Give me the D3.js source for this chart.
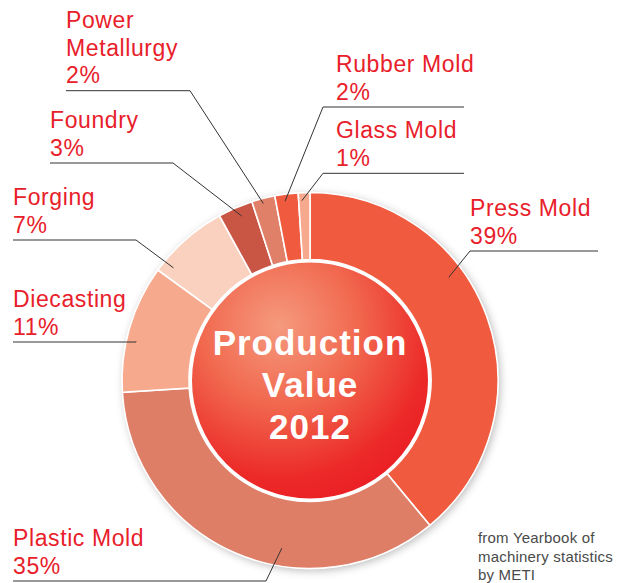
<!DOCTYPE html>
<html>
<head>
<meta charset="utf-8">
<script src="https://cdn.jsdelivr.net/npm/d3@7"></script>
<style>
  body { margin: 0; background: #fff; }
  svg { display: block; }
  .lbl { font-family: "Liberation Sans", Arial, Helvetica, sans-serif; fill: #e8202a; font-size: 23px; letter-spacing: 0.6px; }
  .ctr { font-family: "Liberation Sans", Arial, Helvetica, sans-serif; fill: #fff; font-weight: bold; font-size: 35px; letter-spacing: 1px; }
  .src { font-family: "Liberation Sans", Arial, Helvetica, sans-serif; fill: #4a4a4a; font-size: 15px; letter-spacing: 0.2px; }
</style>
</head>
<body>
<div id="chart"></div>
<script>
// production value share 2012 (%), clockwise from 12 o'clock
const categories = ["Press Mold", "Plastic Mold", "Diecasting", "Forging", "Foundry", "Power Metallurgy", "Rubber Mold", "Glass Mold"];
const shares = [39, 35, 11, 7, 3, 2, 2, 1];
const colors = ["#f05a3f", "#df7e67", "#f6a98c", "#fad0be", "#c95645", "#e08068", "#f05a3f", "#f6a98c"];
const labelLines = [["Press Mold"], ["Plastic Mold"], ["Diecasting"], ["Forging"], ["Foundry"], ["Power", "Metallurgy"], ["Rubber Mold"], ["Glass Mold"]];
const centerTitle = ["Production", "Value", "2012"];
const sourceNote = ["from Yearbook of", "machinery statistics", "by METI"];

const width = 628, height = 583;
const cx = 310, cy = 380.5;
const outerR = 188, innerR = 121, coreR = 119;

// leader placement: text x, rule y, rule x range, where in the slice the leader ends
const leaders = [
	{ tx: 470, y: 251, x0: 470, x1: 598, t: 0.38, r: 173 },
	{ tx: 13, y: 581, x0: 13, x1: 266, t: 0.39, r: 170 },
	{ tx: 13, y: 342, x0: 13, x1: 136, t: 0.41, r: 178 },
	{ tx: 13, y: 240, x0: 13, x1: 136, t: 0.14, r: 177 },
	{ tx: 50, y: 163, x0: 50, x1: 173, t: 0.58, r: 178 },
	{ tx: 66, y: 90.7, x0: 66, x1: 190, t: 0.45, r: 183 },
	{ tx: 336, y: 107, x0: 323, x1: 464, t: 0.40, r: 181 },
	{ tx: 336, y: 173.3, x0: 323, x1: 464, t: 0.28, r: 180 }
];

const svg = d3.select("#chart").append("svg")
	.attr("width", width)
	.attr("height", height)
	.attr("viewBox", [0, 0, width, height]);

const defs = svg.append("defs");
const shadow = defs.append("filter").attr("id", "shadow")
	.attr("x", "-20%").attr("y", "-20%").attr("width", "140%").attr("height", "140%");
shadow.append("feDropShadow")
	.attr("dx", 2).attr("dy", 2).attr("stdDeviation", 4)
	.attr("flood-color", "#000").attr("flood-opacity", 0.28);

const grad = defs.append("radialGradient").attr("id", "core")
	.attr("cx", 0.37).attr("cy", 0.27).attr("r", 0.8)
	.attr("fx", 0.37).attr("fy", 0.27);
grad.append("stop").attr("offset", "0%").attr("stop-color", "#f59a7e");
grad.append("stop").attr("offset", "40%").attr("stop-color", "#f16a50");
grad.append("stop").attr("offset", "80%").attr("stop-color", "#ec2a28");
grad.append("stop").attr("offset", "100%").attr("stop-color", "#ea1c24");

const g = svg.append("g").attr("transform", `translate(${cx},${cy})`);

const pie = d3.pie().sort(null).value(d => d)(shares);
const arc = d3.arc().innerRadius(innerR).outerRadius(outerR);

g.append("circle")
	.attr("r", outerR)
	.attr("fill", "#fff")
	.attr("filter", "url(#shadow)");

g.selectAll("path.slice")
	.data(pie)
	.join("path")
	.attr("class", "slice")
	.attr("d", arc)
	.attr("fill", (d, i) => colors[i])
	.attr("stroke", "#fff")
	.attr("stroke-width", 1.6);

g.append("circle")
	.attr("r", coreR)
	.attr("fill", "url(#core)")
	.attr("stroke", "#fff")
	.attr("stroke-width", 2);

g.selectAll("text.ctr")
	.data(centerTitle)
	.join("text")
	.attr("class", "ctr")
	.attr("text-anchor", "middle")
	.attr("x", 0)
	.attr("y", (d, i) => -25.5 + i * 42)
	.text(d => d);

// leader lines
const endPoint = (d, L) => {
	const a = d.startAngle + L.t * (d.endAngle - d.startAngle);
	return [cx + Math.sin(a) * L.r, cy - Math.cos(a) * L.r];
};

const lines = svg.append("g")
	.attr("fill", "none")
	.attr("stroke", "#333")
	.attr("stroke-width", 1);

pie.forEach((d, i) => {
	const L = leaders[i];
	const [ex, ey] = endPoint(d, L);
	const elbowX = L.x0 > cx ? L.x0 : (L.x0 < 100 && L.x1 > 250) ? L.x1 : L.x1;
	const pts = L.x0 > 300
		? [[L.x1, L.y], [L.x0, L.y], [ex, ey]]
		: [[L.x0, L.y], [elbowX, L.y], [ex, ey]];
	lines.append("path")
		.attr("d", d3.line()(pts));

	const rows = labelLines[i].concat([shares[i] + "%"]);
	const n = rows.length;
	svg.append("g")
		.selectAll("text")
		.data(rows)
		.join("text")
		.attr("class", "lbl")
		.attr("x", L.tx)
		.attr("y", (r, k) => L.y - 7.5 - (n - 1 - k) * 27.7)
		.text(r => r);
});

svg.append("g")
	.selectAll("text")
	.data(sourceNote)
	.join("text")
	.attr("class", "src")
	.attr("x", 478)
	.attr("y", (d, i) => 543 + i * 18.5)
	.text(d => d);
</script>
</body>
</html>
